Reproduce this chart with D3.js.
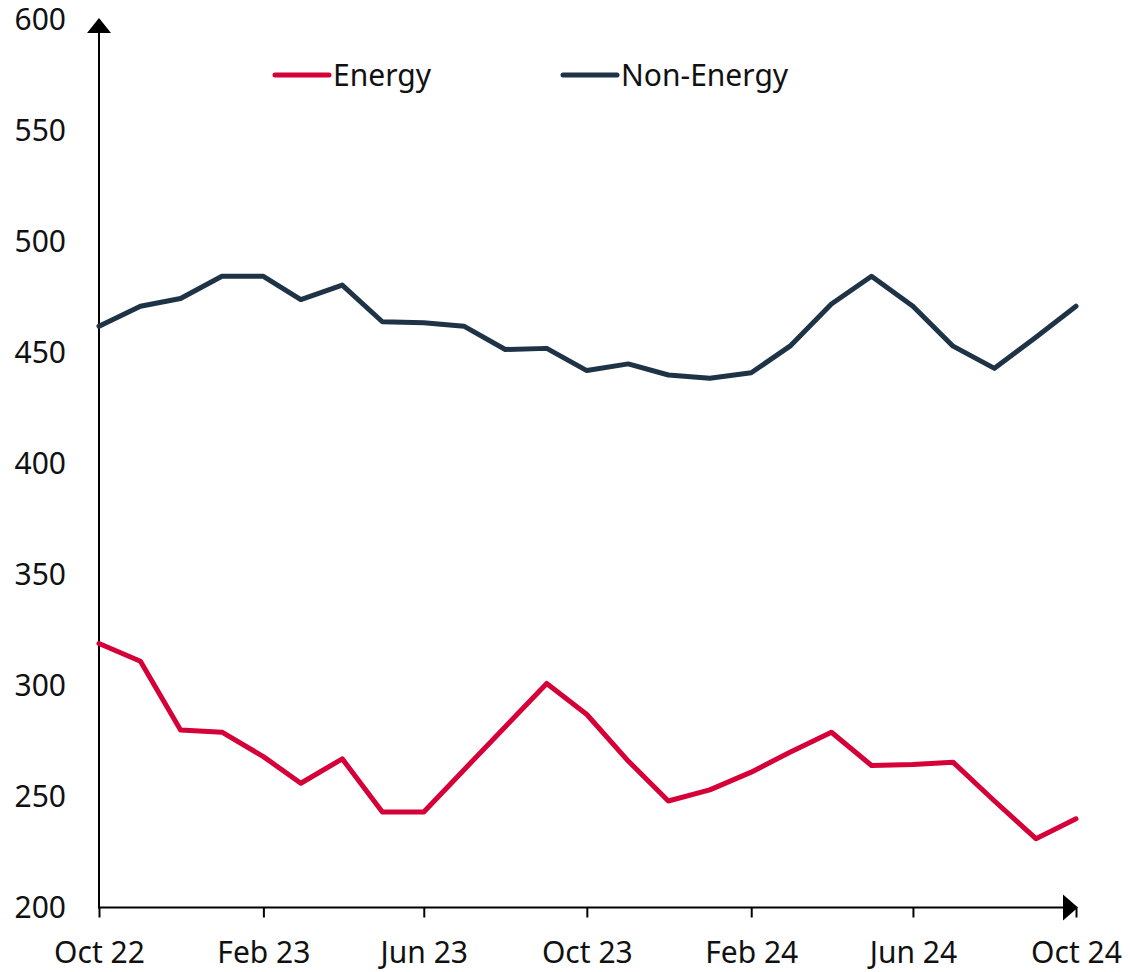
<!DOCTYPE html>
<html>
<head>
<meta charset="utf-8">
<script src="https://cdn.jsdelivr.net/npm/d3@7"></script>
<style>
  body { margin: 0; background: #fff; }
  svg text { font-family: "Noto Sans", "Open Sans", sans-serif; }
</style>
</head>
<body>
<script>
const width = 1130,
      height = 972;

// monthly, Oct 2022 .. Oct 2024
const months = ["2022-10","2022-11","2022-12","2023-01","2023-02","2023-03","2023-04","2023-05","2023-06",
  "2023-07","2023-08","2023-09","2023-10","2023-11","2023-12","2024-01","2024-02","2024-03","2024-04",
  "2024-05","2024-06","2024-07","2024-08","2024-09","2024-10"];

const energy = [319, 311, 280, 279, 268, 256, 267, 243, 243, 262, 281.5, 301, 287, 266, 248, 253, 261,
  270, 279, 264, 264.5, 265.5, 248, 231, 240];

const nonEnergy = [462, 471, 474.5, 484.5, 484.5, 474, 480.5, 464, 463.5, 462, 451.5, 452, 442, 445,
  440, 438.5, 441, 453, 472, 484.5, 471, 453, 443, 457, 471];

const xTicks = ["2022-10","2023-02","2023-06","2023-10","2024-02","2024-06","2024-10"];
const xTickLabels = ["Oct 22","Feb 23","Jun 23","Oct 23","Feb 24","Jun 24","Oct 24"];
const yTicks = [200, 250, 300, 350, 400, 450, 500, 550, 600];

const series = [
  {name: "Energy", values: energy, color: "#d50037"},
  {name: "Non-Energy", values: nonEnergy, color: "#1f3346"}
];

const parse = d3.timeParse("%Y-%m");
const dates = months.map(parse);

var svg = d3.select("body").append("svg")
	.attr("width", width)
	.attr("height", height)

var x = d3.scaleTime()
	.domain([dates[0], dates[dates.length - 1]])
	.range([99, 1076])

var y = d3.scaleLinear()
	.domain([200, 600])
	.range([907.5, 20])

// y axis (no tick marks)
var yAxis = svg.append("g")
	.attr("transform", "translate(99,0)")
	.call(d3.axisLeft(y).tickValues(yTicks).tickSize(0).tickPadding(33))
	.attr("font-family", null)
yAxis.select(".domain").remove()
yAxis.selectAll("text")
	.style("font-size", "30px")
	.attr("fill", "#111")

// x axis
var xAxis = svg.append("g")
	.attr("transform", "translate(0," + y(200) + ")")
	.call(d3.axisBottom(x)
		.tickValues(xTicks.map(parse))
		.tickFormat((d, i) => xTickLabels[i])
		.tickSize(10)
		.tickPadding(24))
	.attr("font-family", null)
xAxis.select(".domain").remove()
xAxis.selectAll("line").attr("stroke", "#000").attr("stroke-width", 2)
xAxis.selectAll("text")
	.style("font-size", "30px")
	.attr("fill", "#111")

// axis lines with arrows
svg.append("line")
	.attr("x1", 99).attr("x2", 99)
	.attr("y1", y(200) + 1).attr("y2", 30)
	.attr("stroke", "#000").attr("stroke-width", 2)
svg.append("path")
	.attr("d", "M99,18 L87,33 L111,33 Z")
	.attr("fill", "#000")

svg.append("line")
	.attr("x1", 98).attr("x2", 1066)
	.attr("y1", y(200)).attr("y2", y(200))
	.attr("stroke", "#000").attr("stroke-width", 2)
svg.append("path")
	.attr("d", "M1078," + y(200) + " L1063," + (y(200) - 13) + " L1063," + (y(200) + 13) + " Z")
	.attr("fill", "#000")

var line = d3.line()
	.x((d, i) => x(dates[i]))
	.y(d => y(d))

svg.selectAll(".series")
	.data(series)
	.enter().append("path")
	.attr("class", "series")
	.attr("d", d => line(d.values))
	.attr("fill", "none")
	.attr("stroke", d => d.color)
	.attr("stroke-width", 5)
	.attr("stroke-linejoin", "round")
	.attr("stroke-linecap", "round")

// legend
var legendX = [275, 563];
var legend = svg.selectAll(".legend")
	.data(series)
	.enter().append("g")
	.attr("class", "legend")
	.attr("transform", (d, i) => "translate(" + legendX[i] + ",75)")

legend.append("line")
	.attr("x1", 0).attr("x2", 54)
	.attr("stroke", d => d.color)
	.attr("stroke-width", 5)
	.attr("stroke-linecap", "round")

legend.append("text")
	.attr("x", 58)
	.attr("dy", "0.35em")
	.style("font-size", "30px")
	.attr("fill", "#111")
	.text(d => d.name)
</script>
</body>
</html>
